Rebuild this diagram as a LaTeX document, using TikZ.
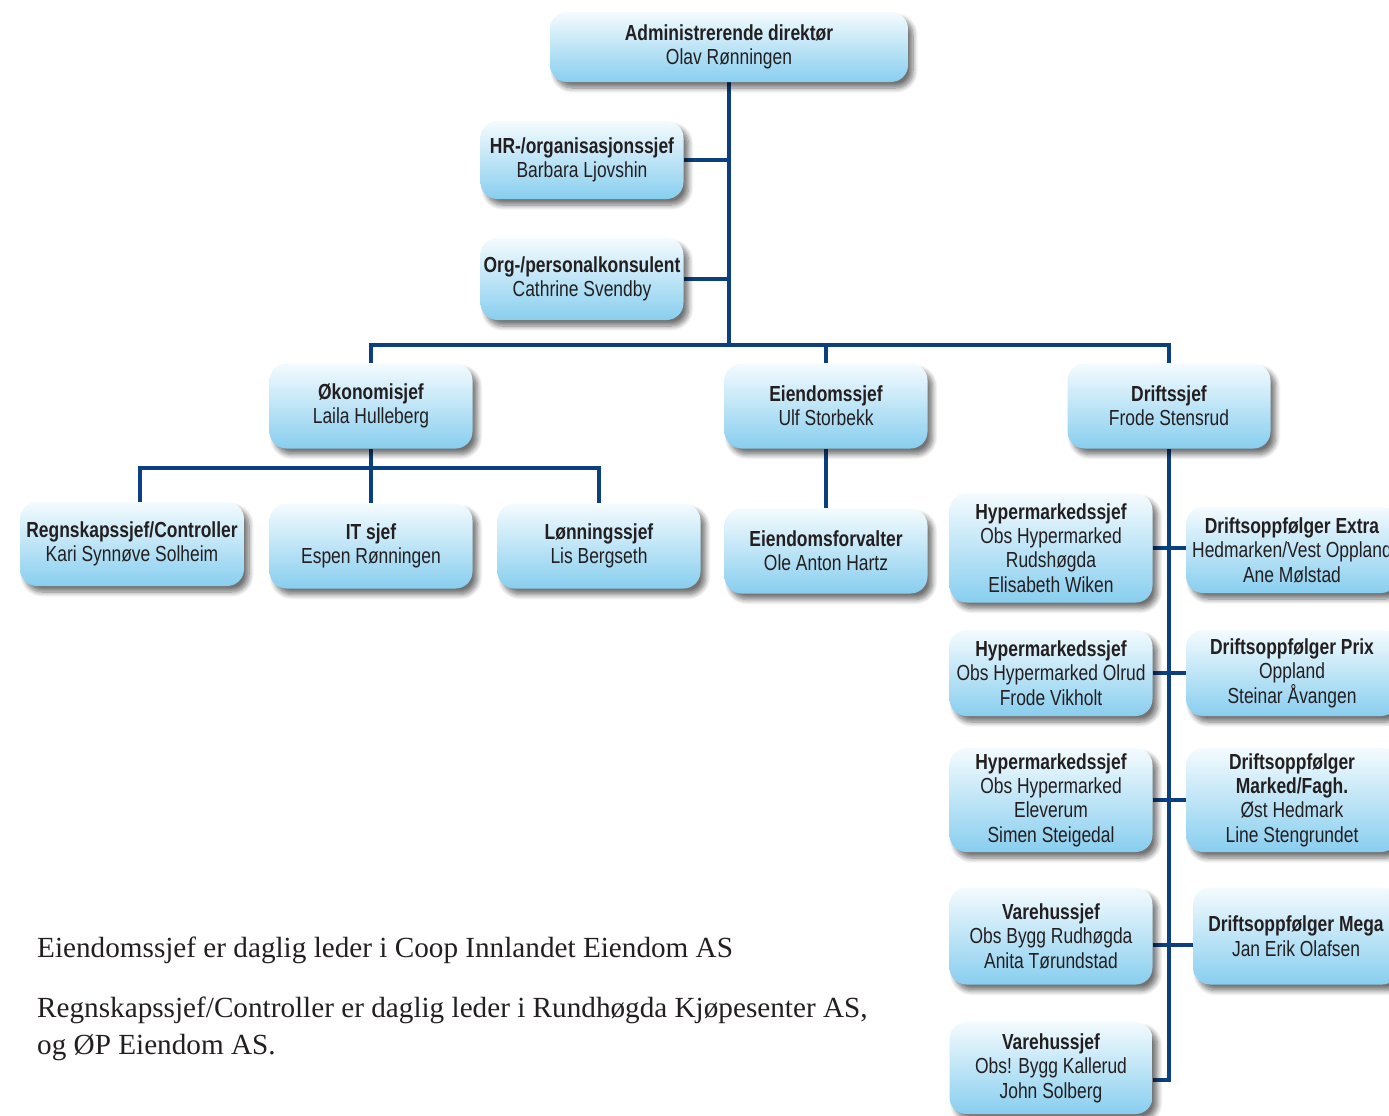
\documentclass[tikz,border=0pt]{standalone}
\usepackage{fontspec}
\setmainfont{Liberation Serif}
\newfontfamily\boxfont[FakeStretch=0.8]{Liberation Sans}
\usetikzlibrary{shadows,shadows.blur,backgrounds}
\definecolor{linec}{HTML}{0B3F7F}
\definecolor{boxtop}{HTML}{F4FBFE}
\definecolor{boxbot}{HTML}{88CEEF}
\definecolor{txt}{HTML}{231F20}
\tikzset{
  card/.style={rounded corners=17pt, top color=boxtop, bottom color=boxbot, draw=none,
    minimum width=203pt, align=center, inner sep=2pt, text=txt,
    font=\boxfont\fontsize{21.8}{24.4}\selectfont,
    blur shadow={shadow xshift=5pt, shadow yshift=-6pt, shadow blur steps=8, shadow blur radius=5pt, shadow opacity=55}},
  conn/.style={draw=linec, line width=4pt},
  note/.style={anchor=west, inner sep=0pt, text=txt, font=\fontsize{29.2}{34}\selectfont}
}
\begin{document}
\begin{tikzpicture}[x=1pt,y=-1pt]
\useasboundingbox (0,0) rectangle (1389,1116);
% nodes
\node[card, minimum width=358pt, minimum height=70pt] (admin) at (729,47) {\textbf{Administrerende direktør}\\Olav Rønningen};
\node[card, minimum height=78pt] (hr) at (582,160) {\textbf{HR-/organisasjonssjef}\\Barbara Ljovshin};
\node[card, minimum height=82pt] (org) at (582,279) {\textbf{Org-/personalkonsulent}\\Cathrine Svendby};
\node[card, minimum height=85pt] (oko) at (371,406) {\textbf{Økonomisjef}\\Laila Hulleberg};
\node[card, minimum height=85pt] (eien) at (826,406) {\textbf{Eiendomssjef}\\Ulf Storbekk};
\node[card, minimum height=85pt] (drift) at (1169,406) {\textbf{Driftssjef}\\Frode Stensrud};
\node[card, minimum width=224pt, minimum height=84pt] (regn) at (132,544) {\textbf{Regnskapssjef/Controller}\\Kari Synnøve Solheim};
\node[card, minimum height=85pt] (it) at (371,546) {\textbf{IT sjef}\\Espen Rønningen};
\node[card, minimum height=85pt] (lonn) at (599,546) {\textbf{Lønningssjef}\\Lis Bergseth};
\node[card, minimum height=85pt] (eforv) at (826,551) {\textbf{Eiendomsforvalter}\\Ole Anton Hartz};
\node[card, minimum height=109pt] (hyp1) at (1051,548) {\textbf{Hypermarkedssjef}\\Obs Hypermarked\\Rudshøgda\\Elisabeth Wiken};
\node[card, minimum width=212pt, minimum height=86pt] (dex) at (1292,550) {\textbf{Driftsoppfølger Extra}\\Hedmarken/Vest Oppland\\Ane Mølstad};
\node[card, minimum height=86pt] (hyp2) at (1051,673) {\textbf{Hypermarkedssjef}\\Obs Hypermarked Olrud\\Frode Vikholt};
\node[card, minimum width=212pt, minimum height=86pt] (dprix) at (1292,673) {\textbf{Driftsoppfølger Prix}\\Oppland\\Steinar Åvangen};
\node[card, minimum height=104pt] (hyp3) at (1051,800) {\textbf{Hypermarkedssjef}\\Obs Hypermarked\\Eleverum\\Simen Steigedal};
\node[card, minimum width=212pt, minimum height=104pt] (dmark) at (1292,800) {\textbf{Driftsoppfølger}\\\textbf{Marked/Fagh.}\\Øst Hedmark\\Line Stengrundet};
\node[card, minimum height=97pt] (vh1) at (1051,936) {\textbf{Varehussjef}\\Obs Bygg Rudhøgda\\Anita Tørundstad};
\node[card, minimum width=206pt, minimum height=97pt] (dmega) at (1296,936) {\textbf{Driftsoppfølger Mega}\\Jan Erik Olafsen};
\node[card, minimum height=92pt] (vh2) at (1051,1068) {\textbf{Varehussjef}\\Obs! Bygg Kallerud\\John Solberg};
% notes
\node[note] (n1) at (37,950) {Eiendomssjef er daglig leder i Coop Innlandet Eiendom AS};
\node[note] (n2) at (37,1010) {Regnskapssjef/Controller er daglig leder i Rundhøgda Kjøpesenter AS,};
\node[note] (n3) at (37,1048) {og ØP Eiendom AS.};
% connectors
\begin{scope}[on background layer]
\coordinate (bar) at (0,345);
\coordinate (bar2) at (0,468);
\coordinate (vh2j) at (0,1080);
\draw[conn] (admin.south) -- (admin.south |- bar);
\draw[conn] (hr.east) -- (hr.east -| admin.south);
\draw[conn] (org.east) -- (org.east -| admin.south);
\draw[conn] (oko.north) -- (oko.north |- bar) -- (drift.north |- bar) -- (drift.north);
\draw[conn] (eien.north) -- (eien.north |- bar);
\draw[conn] (oko.south) -- (oko.south |- bar2);
\draw[conn] ([xshift=8pt]regn.north) -- ([xshift=8pt]regn.north |- bar2) -- (lonn.north |- bar2) -- (lonn.north);
\draw[conn] (it.north) -- (it.north |- bar2);
\draw[conn] (eien.south) -- (eforv.north);
\draw[conn] (drift.south) -- (drift.south |- vh2j) -- (vh2.east |- vh2j);
\draw[conn] (hyp1.east) -- (hyp1.east -| dex.west);
\draw[conn] (hyp2.east) -- (hyp2.east -| dprix.west);
\draw[conn] (hyp3.east) -- (hyp3.east -| dmark.west);
\draw[conn] ([yshift=-9pt]vh1.east) -- ([yshift=-9pt]vh1.east -| dmega.west);
\end{scope}
\end{tikzpicture}
\end{document}
